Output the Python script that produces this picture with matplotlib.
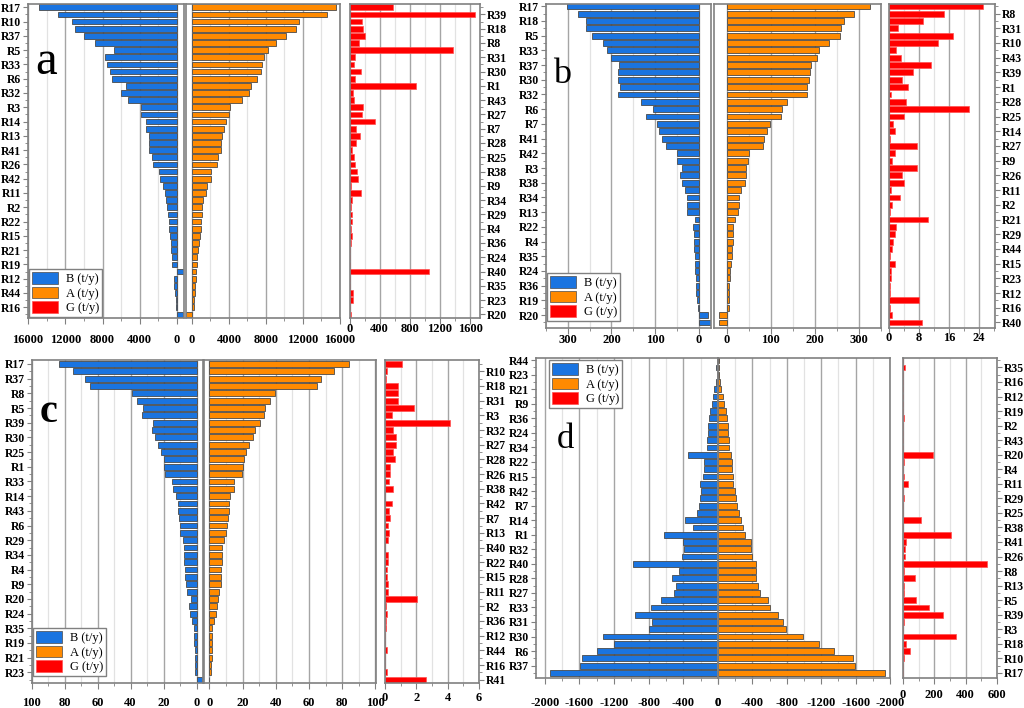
import matplotlib
matplotlib.use("Agg")
import matplotlib.pyplot as plt
from matplotlib.ticker import MultipleLocator
from matplotlib.patches import Patch
import numpy as np

plt.rcParams['font.family'] = ['Liberation Serif', 'DejaVu Serif']
plt.rcParams['font.weight'] = 'bold'
plt.rcParams['axes.unicode_minus'] = False

# --- data (rows top to bottom) ---
rows_a = ["R17", "R39", "R10", "R18", "R37", "R8", "R5", "R31", "R33", "R30", "R6", "R1",
          "R32", "R43", "R3", "R27", "R14", "R7", "R13", "R28", "R41", "R25", "R26", "R38",
          "R42", "R9", "R11", "R34", "R2", "R29", "R22", "R4", "R15", "R36", "R21", "R24",
          "R19", "R40", "R12", "R35", "R44", "R23", "R16", "R20"]
B_a = [14870, 12780, 11300, 10940, 9970, 8820, 6730, 7700, 7520, 7240, 6950, 5440, 6050, 5290,
       3890, 3820, 3280, 3310, 3060, 2990, 3060, 2660, 2590, 1940, 1840, 1480, 1330, 1150, 1040,
       1010, 860, 860, 790, 680, 610, 540, 500, -720, 360, 290, 220, 140, 110, -620]
A_a = [15570, 14630, 11520, 11240, 10190, 9080, 8220, 7820, 7600, 7460, 7060, 6380, 6120, 5400,
       4110, 4030, 3680, 3460, 3240, 3140, 3100, 2810, 2700, 2090, 2020, 1590, 1510, 1230, 1120,
       1080, 970, 950, 900, 790, 650, 580, 560, 430, 420, 360, 320, 250, 220, -610]
G_a = [574, 1669, 168, 177, 199, 132, 1377, 79, 62, 155, 71, 883, 53, 66, 177, 168, 344, 88, 141,
       84, 31, 62, 71, 97, 110, 22, 150, 35, 22, 35, 31, 22, 31, 18, 9, 13, 13, 1060, 4, 2, 49,
       49, 0, 26]

rows_b = ["R17", "R8", "R18", "R31", "R5", "R10", "R33", "R43", "R37", "R39", "R30", "R1",
          "R32", "R28", "R6", "R25", "R7", "R14", "R41", "R27", "R42", "R9", "R3", "R26",
          "R38", "R11", "R34", "R2", "R13", "R21", "R22", "R29", "R4", "R44", "R35", "R15",
          "R24", "R23", "R36", "R12", "R19", "R16", "R20", "R40"]
B_b = [301, 276, 259, 259, 244, 220, 210, 202, 182, 186, 184, 181, 186, 133, 105, 120, 96, 91,
       85, 76, 50, 49, 38, 42, 38, 32, 26, 27, 27, 8.3, 12.9, 11.4, 10.6, 10.6, 9.8, 9.1, 8.3,
       6.8, 6.8, 6.1, 3.8, 2.3, -20.5, -28.8]
A_b = [324, 288, 265, 259, 258, 231, 210, 204, 192, 190, 186, 183, 183, 136, 126, 124, 97, 91,
       85, 82, 51, 49, 44, 43.5, 41, 33, 28, 28, 26, 19.5, 15, 14, 13.3, 11.2, 11.2, 10.5, 7.5,
       7.5, 6, 6, 5.5, 5, -18.7, -18.7]
G_b = [25.1, 14.7, 9.1, 2.5, 17.2, 13.1, 1.8, 3.1, 11.1, 6.5, 3.6, 5.1, 0.6, 4.6, 21.4, 4.1,
       1.0, 1.5, 0.2, 7.4, 1.6, 0.7, 7.5, 3.6, 3.9, 0.5, 2.9, 0.8, 0.2, 10.3, 1.9, 1.6, 1.2, 0.7,
       0.2, 1.6, 0.5, 0.6, 0.4, 0.4, 8.1, 0.4, 0.8, 8.7]

rows_c = ["R17", "R10", "R37", "R18", "R8", "R31", "R5", "R3", "R39", "R32", "R30", "R27",
          "R25", "R28", "R1", "R26", "R33", "R38", "R14", "R42", "R43", "R7", "R6", "R13",
          "R29", "R40", "R34", "R22", "R4", "R15", "R9", "R11", "R20", "R2", "R24", "R36",
          "R35", "R12", "R19", "R44", "R21", "R16", "R23", "R41"]
B_c = [83.2, 75.1, 67.7, 64.6, 39.2, 36.0, 32.3, 32.9, 26.5, 27.3, 25.0, 23.4, 21.6, 19.8, 20.0,
       19.0, 14.9, 14.3, 12.3, 11.5, 11.3, 10.7, 10.3, 9.9, 8.3, 7.7, 7.5, 7.5, 7.1, 6.9, 6.5,
       5.7, 3.2, 4.4, 4.0, 2.8, 1.8, 1.4, 1.4, 1.2, 1.2, 1.2, 1.0, -3.2]
A_c = [84.0, 74.8, 67.4, 65.0, 39.8, 36.8, 33.8, 33.0, 30.4, 27.8, 26.0, 24.0, 21.8, 20.6, 20.2,
       19.6, 15.0, 14.8, 12.6, 12.0, 11.8, 11.4, 10.6, 10.2, 8.6, 7.8, 7.8, 7.6, 7.2, 7.0, 6.8,
       6.0, 5.4, 4.8, 4.2, 3.0, 1.8, 1.6, 1.6, 1.4, 1.4, 1.3, 1.2, -0.4]
G_c = [1.09, 0.1, 0.06, 0.8, 0.8, 0.86, 1.83, 0.42, 4.17, 0.53, 0.67, 0.72, 0.48, 0.63, 0.29,
       0.29, 0.23, 0.53, 0.02, 0.42, 0.25, 0.32, 0.19, 0.27, 0.17, 0.02, 0.17, 0.17, 0.13, 0.15,
       0.21, 0.19, 2.02, 0.06, 0.1, 0.06, 0.04, 0.02, 0.02, 0.1, 0.0, 0.01, 0.15, 2.63]

rows_d = ["R44", "R35", "R23", "R16", "R21", "R12", "R9", "R19", "R36", "R2", "R24", "R43",
          "R34", "R20", "R22", "R4", "R15", "R11", "R42", "R29", "R7", "R25", "R14", "R38",
          "R1", "R41", "R32", "R26", "R40", "R8", "R28", "R13", "R27", "R5", "R33", "R39",
          "R31", "R3", "R30", "R18", "R6", "R10", "R37", "R17"]
B_d = [-15, -23, -15, -23, -43, -62, -70, -93, -108, -112, -116, -124, -128, -344, -162, -162,
       -174, -205, -197, -213, -220, -243, -383, -286, -626, -406, -398, -414, -982, -452, -530,
       -479, -506, -661, -769, -959, -761, -800, -1330, -1202, -1399, -1569, -1596, -1944]
A_d = [-12, -12, -15, -19, -38, -62, -69, -89, -104, -112, -112, -123, -127, -154, -158, -166,
       -170, -177, -200, -204, -216, -247, -262, -285, -316, -378, -385, -397, -439, -439, -447,
       -470, -493, -578, -601, -697, -755, -794, -986, -1179, -1344, -1564, -1595, -1939]
G_d = [0, 15, 0, 0, 0, 0, 0, 0, 8, 0, 0, 0, 0, 191, 6, 0, 4, 32, 0, 4, 0, 0, 117, 3, 309, 21,
       15, 15, 538, 8, 79, 4, 8, 83, 168, 253, 6, 0, 340, 17, 47, 4, 0, 0]

BLUE = "#1a74e0"
ORANGE = "#ff8a00"
RED = "#ff0000"
GREY = "#808080"
FS = 9      # x tick labels
FSY = 8.5   # row labels
W, H = 1024, 708

fig = plt.figure(figsize=(W / 100, H / 100), dpi=100)


def rect(x0, x1, y0, y1):
    return [x0 / W, 1 - y1 / H, (x1 - x0) / W, (y1 - y0) / H]


def style(ax, xlim, major, minor, ylim, pad):
    ax.set_xlim(*xlim)
    ax.set_ylim(*ylim)
    for s in ax.spines.values():
        s.set_color(GREY)
        s.set_linewidth(1.2)
    ax.xaxis.set_major_locator(MultipleLocator(major))
    ax.xaxis.set_minor_locator(MultipleLocator(minor))
    ax.grid(True, axis='x', which='major', color='#a5a5a5', lw=1.0)
    ax.grid(True, axis='x', which='minor', color='#e2e2e2', lw=0.9)
    ax.set_axisbelow(True)
    ax.tick_params(axis='x', which='both', direction='out', color=GREY, labelsize=FS, pad=pad)
    ax.tick_params(axis='x', which='major', length=4)
    ax.tick_params(axis='x', which='minor', length=2)


def panel(names, B, A, G, rb, ra, rg, ytop, ybot, ylim, blim, alim, glim,
          bmaj, bmin, gmaj, gmin, pad_main, pad_g, letter, leg_xy):
    rows = np.arange(len(names))
    axb = fig.add_axes(rect(rb[0], rb[1], ytop, ybot))
    axa = fig.add_axes(rect(ra[0], ra[1], ytop, ybot))
    axg = fig.add_axes(rect(rg[0], rg[1], ytop, ybot))

    axb.barh(rows, B, height=0.8, color=BLUE, edgecolor='#4a4a4a', linewidth=0.6)
    axa.barh(rows, A, height=0.8, color=ORANGE, edgecolor='#4a4a4a', linewidth=0.6)
    axg.barh(rows, G, height=0.8, color=RED, edgecolor='#ff5050', linewidth=0.5)

    style(axb, blim, bmaj, bmin, ylim, pad_main)
    style(axa, alim, bmaj, bmin, ylim, pad_main)
    style(axg, glim, gmaj, gmin, ylim, pad_g)

    axb.set_yticks(rows[0::2])
    axb.set_yticklabels(names[0::2])
    axb.set_yticks(rows[1::2], minor=True)
    axb.tick_params(axis='y', which='both', left=True, right=False, color=GREY,
                    labelsize=FSY, pad=1.5)
    axb.tick_params(axis='y', which='major', length=3.5)
    axb.tick_params(axis='y', which='minor', length=2)

    axa.set_yticks([])

    axg.yaxis.tick_right()
    axg.set_yticks(rows[1::2])
    axg.set_yticklabels(names[1::2])
    axg.set_yticks(rows[0::2], minor=True)
    axg.tick_params(axis='y', which='both', left=False, right=True, color=GREY,
                    labelsize=FSY, pad=1.5)
    axg.tick_params(axis='y', which='major', length=3.5)
    axg.tick_params(axis='y', which='minor', length=2)

    txt, lx, ly, size, weight = letter
    fig.text(lx / W, 1 - ly / H, txt, fontsize=size, fontweight=weight,
             ha='center', va='baseline')

    handles = [Patch(facecolor=BLUE, edgecolor='#4a4a4a', lw=0.5),
               Patch(facecolor=ORANGE, edgecolor='#4a4a4a', lw=0.5),
               Patch(facecolor=RED, edgecolor='#ff5050', lw=0.5)]
    leg = fig.legend(handles, ["B (t/y)", "A (t/y)", "G (t/y)"], loc='upper left',
                     bbox_to_anchor=(leg_xy[0] / W, 1 - leg_xy[1] / H),
                     prop={'weight': 'normal', 'size': FS}, fancybox=False,
                     framealpha=1, edgecolor=GREY, borderpad=0.25, borderaxespad=0,
                     handlelength=2.1, handleheight=1.05, handletextpad=0.6,
                     labelspacing=0.12)
    leg.get_frame().set_linewidth(1.0)


panel(rows_a, B_a, A_a, G_a, (28, 184), (185.5, 340), (349.5, 480), 4, 318,
      (43.5, -0.46), (16000, -750), (-700, 16000), (0, 1730), 4000, 2000, 400, 200,
      7.5, -0.5, ("a", 46, 74, 35, 'normal'), (29, 269))
panel(rows_b, B_b, A_b, G_b, (546, 711), (714, 881), (889, 995), 4, 328,
      (43.75, -0.3), (350, -28), (-29, 350), (0, 28.3), 100, 50, 8, 4,
      0.5, -1, ("b", 562, 83, 26, 'normal'), (547, 273))
panel(rows_c, B_c, A_c, G_c, (31.7, 202.5), (204, 375.6), (385, 479.3), 360, 683,
      (43.45, -0.54), (100, -3.6), (-3.2, 100.1), (0, 6.01), 20, 10, 2, 1,
      6, 2.6, ("c", 49, 421.7, 29, 'bold'), (33, 628))
panel(rows_d, B_d, A_d, G_d, (536, 718), (718, 890), (903, 997), 358, 678,
      (43.7, -0.3), (-2100, 0), (0, -2000), (0, 600), 400, 200, 200, 100,
      9.5, 4, ("d", 565, 448.3, 25, 'normal'), (549, 360))

fig.savefig("out.png", dpi=100)
